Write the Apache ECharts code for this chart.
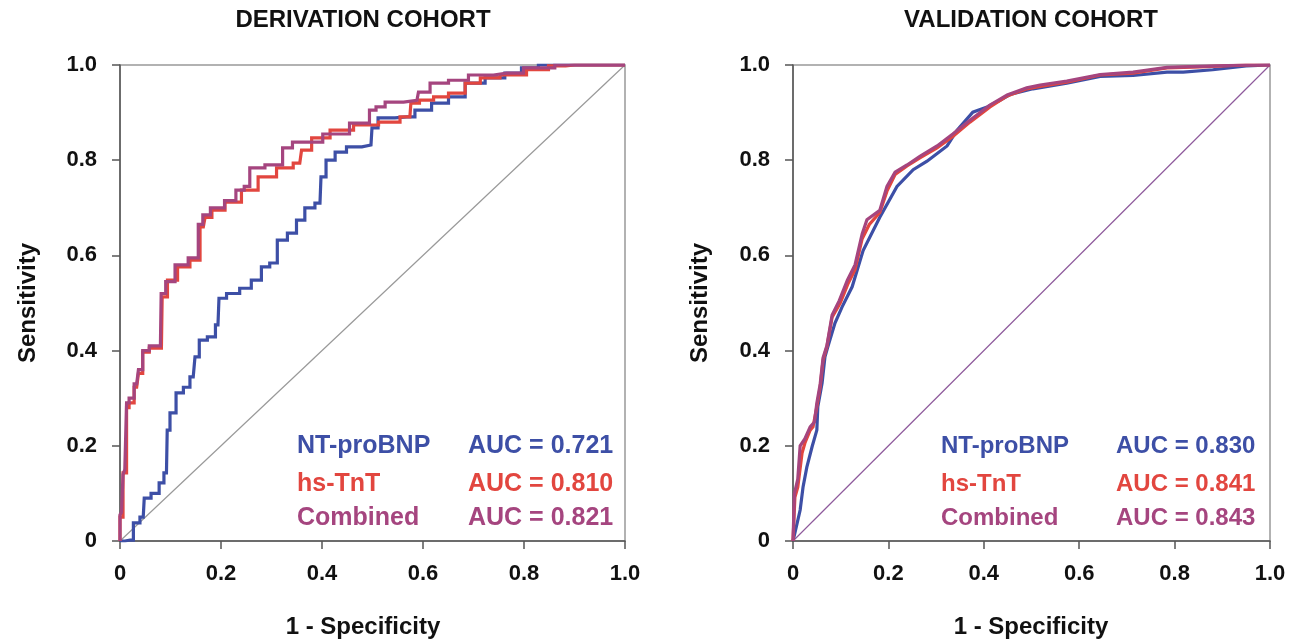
<!DOCTYPE html>
<html>
<head>
<meta charset="utf-8">
<script src="https://cdn.jsdelivr.net/npm/echarts@6/dist/echarts.min.js"></script>
<style>
html,body{margin:0;padding:0;background:#fff;}
#chart{width:1294px;height:643px;}
</style>
</head>
<body>
<div id="chart"></div>
<script>
// ---- data ----
const panelTitles = ['DERIVATION COHORT', 'VALIDATION COHORT'];
const seriesNames = ['NT-proBNP', 'hs-TnT', 'Combined'];
const aucDerivation = ['0.721', '0.810', '0.821'];
const aucValidation = ['0.830', '0.841', '0.843'];
const tickValues = [0, 0.2, 0.4, 0.6, 0.8, 1.0];
const tickLabels = ['0', '0.2', '0.4', '0.6', '0.8', '1.0'];
const xAxisTitle = '1 - Specificity';
const yAxisTitle = 'Sensitivity';

const derivNT = [[0,0],[0.02,0.002],[0.033,0.038],[0.046,0.05],[0.05,0.09],[0.073,0.10],[0.082,0.122],[0.092,0.143],[0.095,0.233],[0.103,0.269],[0.119,0.311],[0.132,0.323],[0.145,0.345],[0.152,0.387],[0.162,0.422],[0.184,0.429],[0.194,0.454],[0.198,0.51],[0.224,0.52],[0.25,0.531],[0.27,0.548],[0.29,0.576],[0.303,0.584],[0.32,0.632],[0.343,0.647],[0.356,0.674],[0.376,0.70],[0.396,0.71],[0.40,0.765],[0.416,0.80],[0.436,0.817],[0.461,0.828],[0.497,0.832],[0.501,0.868],[0.521,0.889],[0.568,0.891],[0.60,0.905],[0.634,0.92],[0.667,0.933],[0.70,0.962],[0.746,0.973],[0.778,0.983],[0.812,0.994],[0.845,1.0],[1,1]];
const derivTnT = [[0,0],[0,0.05],[0.006,0.05],[0.006,0.143],[0.013,0.143],[0.013,0.28],[0.023,0.29],[0.033,0.323],[0.04,0.352],[0.05,0.397],[0.066,0.405],[0.082,0.405],[0.085,0.513],[0.103,0.548],[0.125,0.576],[0.152,0.59],[0.165,0.66],[0.172,0.68],[0.192,0.695],[0.224,0.712],[0.257,0.737],[0.29,0.765],[0.33,0.784],[0.356,0.794],[0.363,0.821],[0.396,0.847],[0.436,0.863],[0.489,0.874],[0.535,0.88],[0.574,0.891],[0.578,0.92],[0.608,0.926],[0.634,0.933],[0.667,0.941],[0.70,0.962],[0.727,0.973],[0.778,0.979],[0.832,0.99],[0.865,0.998],[0.9,1],[1,1]];
const derivComb = [[0,0],[0,0.055],[0.006,0.06],[0.006,0.14],[0.013,0.15],[0.013,0.29],[0.023,0.30],[0.033,0.33],[0.04,0.36],[0.05,0.40],[0.066,0.41],[0.08,0.41],[0.083,0.52],[0.098,0.545],[0.12,0.58],[0.15,0.595],[0.16,0.665],[0.168,0.685],[0.19,0.70],[0.224,0.715],[0.235,0.737],[0.257,0.745],[0.257,0.784],[0.317,0.79],[0.327,0.826],[0.356,0.838],[0.383,0.838],[0.42,0.855],[0.489,0.878],[0.499,0.905],[0.515,0.912],[0.535,0.922],[0.588,0.926],[0.594,0.943],[0.634,0.962],[0.667,0.968],[0.713,0.979],[0.766,0.983],[0.832,0.994],[0.89,1],[1,1]];

const validNT = [[0,0],[0.004,0.017],[0.015,0.065],[0.021,0.113],[0.029,0.155],[0.04,0.198],[0.05,0.233],[0.052,0.282],[0.061,0.332],[0.067,0.387],[0.073,0.408],[0.088,0.458],[0.103,0.492],[0.124,0.534],[0.147,0.61],[0.182,0.68],[0.218,0.745],[0.252,0.78],[0.281,0.798],[0.323,0.83],[0.344,0.863],[0.377,0.901],[0.407,0.912],[0.434,0.926],[0.455,0.938],[0.503,0.95],[0.574,0.962],[0.644,0.976],[0.713,0.978],[0.784,0.985],[0.818,0.985],[0.88,0.99],[0.95,0.998],[1,1]];
const validTnT = [[0,0],[0.004,0.092],[0.01,0.113],[0.019,0.185],[0.025,0.206],[0.036,0.233],[0.042,0.24],[0.05,0.282],[0.057,0.324],[0.063,0.38],[0.071,0.408],[0.082,0.47],[0.099,0.50],[0.116,0.542],[0.13,0.57],[0.145,0.635],[0.16,0.665],[0.182,0.69],[0.197,0.735],[0.214,0.77],[0.239,0.788],[0.266,0.805],[0.302,0.826],[0.335,0.85],[0.371,0.88],[0.413,0.912],[0.449,0.935],[0.49,0.95],[0.518,0.955],[0.574,0.964],[0.644,0.979],[0.713,0.983],[0.784,0.994],[0.853,0.996],[0.95,1],[1,1]];
const validComb = [[0,0],[0.003,0.1],[0.01,0.13],[0.015,0.2],[0.025,0.215],[0.036,0.24],[0.045,0.25],[0.05,0.29],[0.057,0.33],[0.063,0.385],[0.071,0.41],[0.082,0.475],[0.097,0.505],[0.114,0.548],[0.13,0.58],[0.145,0.645],[0.155,0.675],[0.182,0.695],[0.197,0.745],[0.214,0.775],[0.239,0.79],[0.266,0.808],[0.302,0.83],[0.335,0.855],[0.371,0.884],[0.413,0.916],[0.449,0.937],[0.49,0.952],[0.518,0.958],[0.574,0.966],[0.644,0.98],[0.713,0.985],[0.784,0.995],[0.853,0.997],[0.95,1],[1,1]];
const diagonal = [[0,0],[1,1]];

// ---- styles ----
const COLORS = ['#3D4FA6', '#E2463F', '#A5457F'];
const FONT = '"Liberation Sans", Arial, Helvetica, sans-serif';
const grids = [
  {left: 120, top: 65, width: 505, height: 476},
  {left: 793, top: 65, width: 477, height: 476}
];
const diagColors = ['#999999', '#8E5A9C'];
const panelStep = ['middle', false];
const legendFont = [25, 24];

function makeAxis(type, gi) {
  return {
    type: 'value', gridIndex: gi, min: 0, max: 1, interval: 0.2,
    axisLine: {show: true, onZero: false, lineStyle: {color: '#555', width: 1.5}},
    axisTick: {show: true, inside: false, length: 8, lineStyle: {color: '#555', width: 1.5}},
    splitLine: {show: false},
    axisLabel: {
      margin: type === 'x' ? 22 : 23,
      fontFamily: FONT, fontWeight: 'bold', fontSize: 22, color: '#111',
      formatter: v => { const i = tickValues.findIndex(t => Math.abs(t - v) < 1e-6); return i >= 0 ? tickLabels[i] : ''; }
    }
  };
}

const series = [];
const panelData = [[derivNT, derivTnT, derivComb], [validNT, validTnT, validComb]];
[0, 1].forEach(gi => {
  series.push({type: 'line', xAxisIndex: gi, yAxisIndex: gi, data: diagonal, symbol: 'none',
    lineStyle: {color: diagColors[gi], width: 1.2}, z: 1, silent: true});
  panelData[gi].forEach((d, si) => {
    series.push({type: 'line', name: seriesNames[si], xAxisIndex: gi, yAxisIndex: gi, data: d,
      step: panelStep[gi], symbol: 'none', lineStyle: {color: COLORS[si], width: 3.2, join: 'miter'}, z: 2 + si});
  });
});

const graphics = [];
const titleStyle = {fontFamily: FONT, fontWeight: 'bold', fontSize: 24, fill: '#111'};
const centers = [363, 1031];
const yTitleX = [28, 700];
const legendX = [[297, 468], [941, 1116]];
const legendY = [446, 484, 518];
const aucs = [aucDerivation, aucValidation];
[0, 1].forEach(gi => {
  graphics.push({type: 'text', x: centers[gi], y: 20, style: Object.assign({text: panelTitles[gi], textAlign: 'center', textVerticalAlign: 'middle'}, titleStyle)});
  graphics.push({type: 'text', x: centers[gi], y: 627, style: Object.assign({text: xAxisTitle, textAlign: 'center', textVerticalAlign: 'middle'}, titleStyle)});
  graphics.push({type: 'text', x: yTitleX[gi], y: 303, rotation: Math.PI / 2, style: Object.assign({text: yAxisTitle, textAlign: 'center', textVerticalAlign: 'middle'}, titleStyle)});
  seriesNames.forEach((n, si) => {
    graphics.push({type: 'text', x: legendX[gi][0], y: legendY[si], style: {text: n, textAlign: 'left', textVerticalAlign: 'middle', fontFamily: FONT, fontWeight: 'bold', fontSize: legendFont[gi], fill: COLORS[si]}});
    graphics.push({type: 'text', x: legendX[gi][1], y: legendY[si], style: {text: 'AUC = ' + aucs[gi][si], textAlign: 'left', textVerticalAlign: 'middle', fontFamily: FONT, fontWeight: 'bold', fontSize: legendFont[gi], fill: COLORS[si]}});
  });
});

const chart = echarts.init(document.getElementById('chart'), null, {renderer: 'canvas'});
chart.setOption({
  backgroundColor: '#fff',
  animation: false,
  grid: grids.map(g => Object.assign({show: true, borderColor: '#999', borderWidth: 1.5, backgroundColor: 'transparent'}, g)),
  xAxis: [makeAxis('x', 0), makeAxis('x', 1)],
  yAxis: [makeAxis('y', 0), makeAxis('y', 1)],
  series: series,
  graphic: graphics
});
</script>
</body>
</html>
